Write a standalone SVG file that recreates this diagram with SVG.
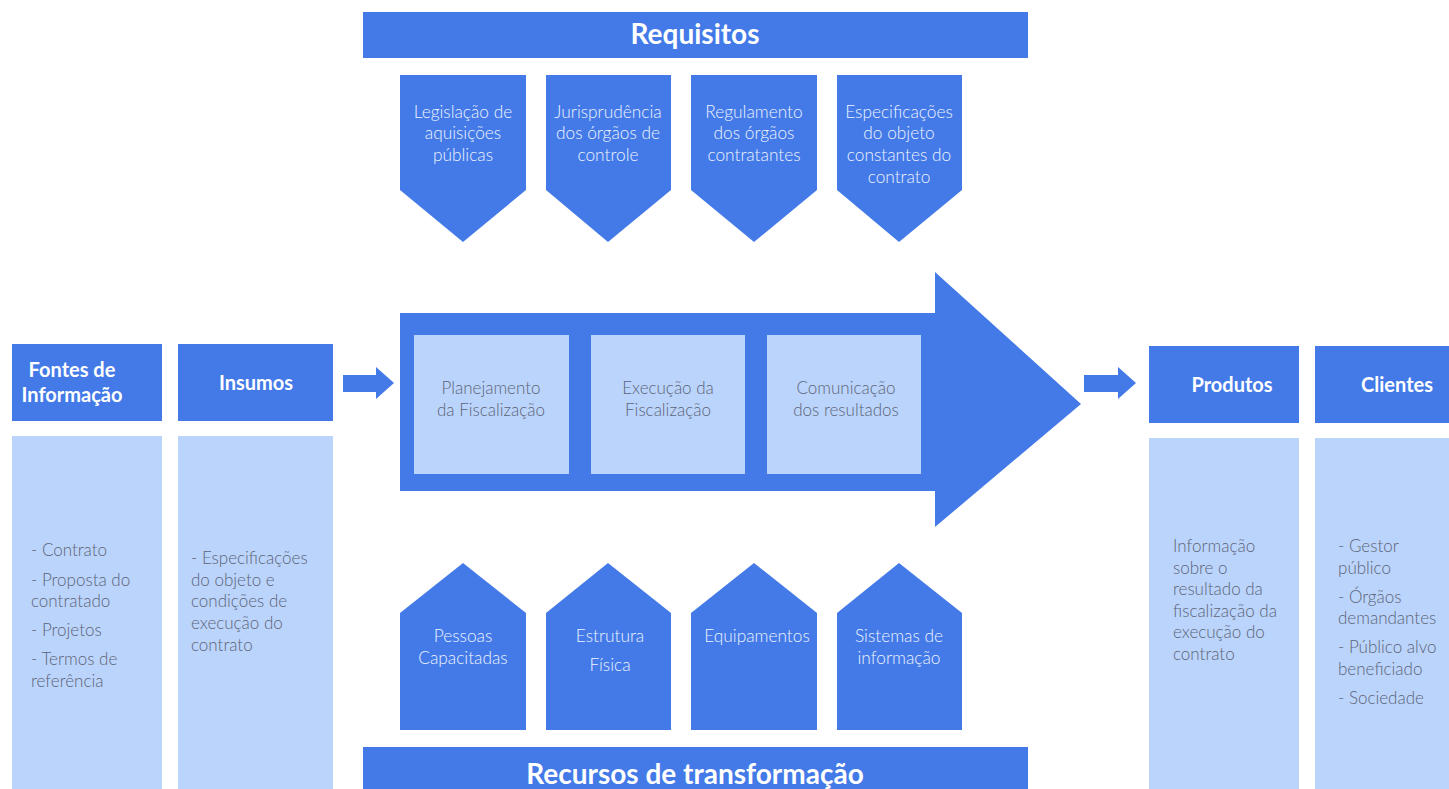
<svg xmlns="http://www.w3.org/2000/svg" width="1449" height="789" viewBox="0 0 1449 789">
<style>
.d{fill:#437AE8}
.l{fill:#BBD4FB}
.h{font-family:Lato,"Liberation Sans",sans-serif;font-weight:700;fill:#FFFFFF}
.w{font-family:Lato,"Liberation Sans",sans-serif;font-weight:300;font-size:17.3px;fill:#EEF3FD;text-anchor:middle}
.g{font-family:Lato,"Liberation Sans",sans-serif;font-weight:300;font-size:17px;fill:#5B6478}
.gc{text-anchor:middle}
</style>
<rect width="1449" height="789" fill="#FFFFFF"/>

<g id="requisitos">
<rect class="d" x="363" y="12" width="665" height="46"/>
<text class="h" x="695" y="44" font-size="28" text-anchor="middle">Requisitos</text>
</g>

<g id="req1">
<polygon class="d" points="400,75 526,75 526,190 463,242 400,190"/>
<text class="w" x="463" y="118">Legislação de</text>
<text class="w" x="463" y="139">aquisições</text>
<text class="w" x="463" y="161">públicas</text>
</g>
<g id="req2">
<polygon class="d" points="546,75 671,75 671,190 608,242 546,190"/>
<text class="w" x="608" y="118">Jurisprudência</text>
<text class="w" x="608" y="139">dos órgãos de</text>
<text class="w" x="608" y="161">controle</text>
</g>
<g id="req3">
<polygon class="d" points="691,75 817,75 817,190 754,242 691,190"/>
<text class="w" x="754" y="118">Regulamento</text>
<text class="w" x="754" y="139">dos órgãos</text>
<text class="w" x="754" y="161">contratantes</text>
</g>
<g id="req4">
<polygon class="d" points="837,75 962,75 962,190 899,242 837,190"/>
<text class="w" x="899" y="118">Especificações</text>
<text class="w" x="899" y="139">do objeto</text>
<text class="w" x="899" y="161">constantes do</text>
<text class="w" x="899" y="183">contrato</text>
</g>

<g id="processo">
<polygon class="d" points="400,313 935,313 935,272 1081,404 935,527 935,491 400,491"/>
</g>
<g id="planejamento">
<rect class="l" x="414" y="335" width="155" height="139"/>
<text class="g gc" x="491" y="394">Planejamento</text>
<text class="g gc" x="491" y="416">da Fiscalização</text>
</g>
<g id="execucao">
<rect class="l" x="591" y="335" width="154" height="139"/>
<text class="g gc" x="668" y="394">Execução da</text>
<text class="g gc" x="668" y="416">Fiscalização</text>
</g>
<g id="comunicacao">
<rect class="l" x="767" y="335" width="154" height="139"/>
<text class="g gc" x="846" y="394">Comunicação</text>
<text class="g gc" x="846" y="416">dos resultados</text>
</g>

<g id="connectors">
<polygon class="d" points="343,375 376,375 376,367 394,383 376,399 376,392 343,392"/>
<polygon class="d" points="1084,375 1118,375 1118,367 1136,383 1118,399 1118,392 1084,392"/>
</g>

<g id="fontes">
<rect class="d" x="12" y="344" width="150" height="77"/>
<text class="h" x="72" y="377" font-size="20" text-anchor="middle">Fontes de</text>
<text class="h" x="72" y="402" font-size="20" text-anchor="middle">Informação</text>
<rect class="l" x="12" y="436" width="150" height="353"/>
<text class="g" x="31" y="556">- Contrato</text>
<text class="g" x="31" y="586">- Proposta do</text>
<text class="g" x="31" y="607">contratado</text>
<text class="g" x="31" y="636">- Projetos</text>
<text class="g" x="31" y="665">- Termos de</text>
<text class="g" x="31" y="687">referência</text>
</g>

<g id="insumos">
<rect class="d" x="178" y="344" width="155" height="77"/>
<text class="h" x="256" y="390" font-size="20" text-anchor="middle">Insumos</text>
<rect class="l" x="178" y="436" width="155" height="353"/>
<text class="g" x="191" y="564">- Especificações</text>
<text class="g" x="191" y="586">do objeto e</text>
<text class="g" x="191" y="607">condições de</text>
<text class="g" x="191" y="629">execução do</text>
<text class="g" x="191" y="651">contrato</text>
</g>

<g id="produtos">
<rect class="d" x="1149" y="346" width="150" height="77"/>
<text class="h" x="1232" y="392" font-size="20" text-anchor="middle">Produtos</text>
<rect class="l" x="1149" y="438" width="150" height="351"/>
<text class="g" x="1173" y="552">Informação</text>
<text class="g" x="1173" y="574">sobre o</text>
<text class="g" x="1173" y="595">resultado da</text>
<text class="g" x="1173" y="617">fiscalização da</text>
<text class="g" x="1173" y="638">execução do</text>
<text class="g" x="1173" y="660">contrato</text>
</g>

<g id="clientes">
<rect class="d" x="1315" y="346" width="134" height="77"/>
<text class="h" x="1397" y="392" font-size="20" text-anchor="middle">Clientes</text>
<rect class="l" x="1315" y="438" width="134" height="351"/>
<text class="g" x="1338" y="552">- Gestor</text>
<text class="g" x="1338" y="574">público</text>
<text class="g" x="1338" y="603">- Órgãos</text>
<text class="g" x="1338" y="624">demandantes</text>
<text class="g" x="1338" y="653">- Público alvo</text>
<text class="g" x="1338" y="675">beneficiado</text>
<text class="g" x="1338" y="704">- Sociedade</text>
</g>

<g id="rec1">
<polygon class="d" points="463,563 526,613 526,730 400,730 400,613"/>
<text class="w" x="463" y="642">Pessoas</text>
<text class="w" x="463" y="664">Capacitadas</text>
</g>
<g id="rec2">
<polygon class="d" points="608,563 671,613 671,730 546,730 546,613"/>
<text class="w" x="610" y="642">Estrutura</text>
<text class="w" x="610" y="671">Física</text>
</g>
<g id="rec3">
<polygon class="d" points="754,563 817,613 817,730 691,730 691,613"/>
<text class="w" x="757" y="642">Equipamentos</text>
</g>
<g id="rec4">
<polygon class="d" points="899,563 962,613 962,730 837,730 837,613"/>
<text class="w" x="899" y="642">Sistemas de</text>
<text class="w" x="899" y="664">informação</text>
</g>

<g id="recursos">
<rect class="d" x="363" y="747" width="665" height="42"/>
<text class="h" x="695" y="784" font-size="28" text-anchor="middle">Recursos de transformação</text>
</g>
</svg>
